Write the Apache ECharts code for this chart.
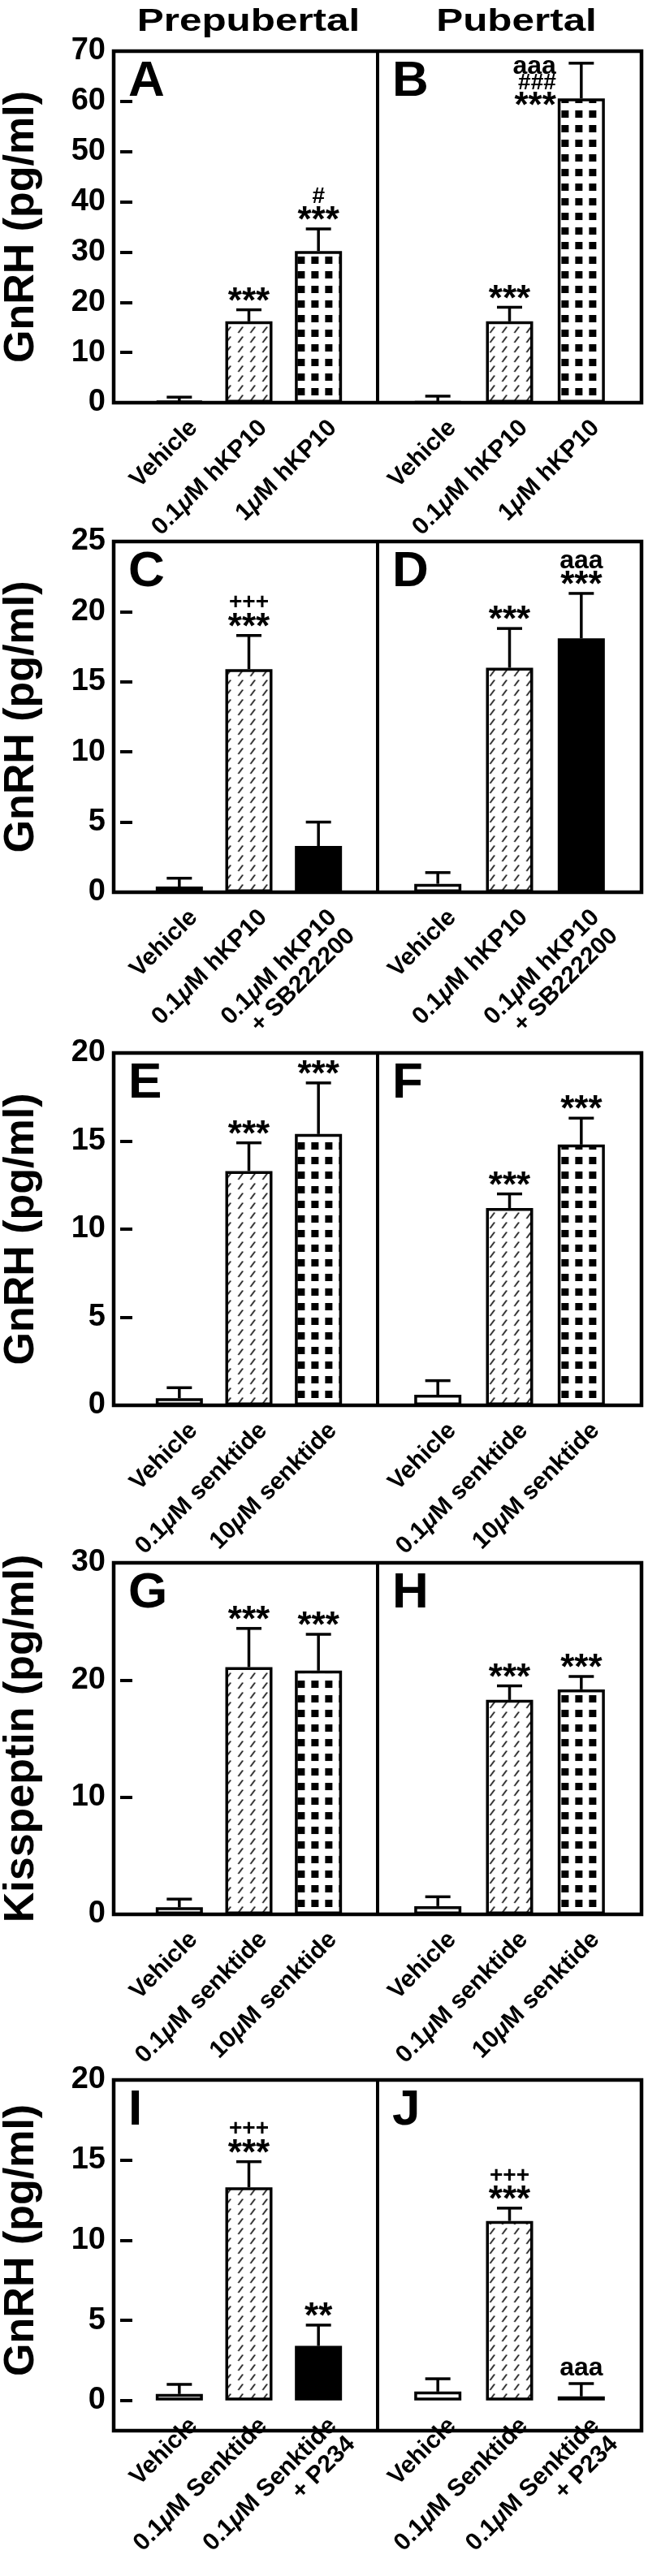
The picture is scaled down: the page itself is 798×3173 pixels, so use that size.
<!DOCTYPE html>
<html>
<head>
<meta charset="utf-8">
<script src="https://cdn.jsdelivr.net/npm/echarts@6/dist/echarts.min.js"></script>
<style>
  html, body { margin: 0; padding: 0; background: #fff; }
  #chart { width: 798px; height: 3173px; }
</style>
</head>
<body>
<div id="chart"></div>
<script>
// ---- categories ----
var catsKP = ['Vehicle', '0.1μM hKP10', '1μM hKP10'];
var catsSB = ['Vehicle', '0.1μM hKP10', '0.1μM hKP10\n+ SB222200'];
var catsSk = ['Vehicle', '0.1μM senktide', '10μM senktide'];
var catsP234 = ['Vehicle', '0.1μM Senktide', '0.1μM Senktide\n+ P234'];

var groupTitles = ['Prepubertal', 'Pubertal'];
var yTitles = ['GnRH (pg/ml)', 'GnRH (pg/ml)', 'GnRH (pg/ml)', 'Kisspeptin (pg/ml)', 'GnRH (pg/ml)'];
var yMax = [70, 25, 20, 30, 20];
var yStep = [10, 5, 5, 10, 5];
var letters = ['A', 'B', 'C', 'D', 'E', 'F', 'G', 'H', 'I', 'J'];

// ---- means and SEM (upper error only) ----
var valA = [0.3, 16.2, 30.2];  var errA = [0.8, 2.3, 4.4];
var valB = [0.2, 16.2, 60.6];  var errB = [1.1, 2.8, 7.0];
var valC = [0.4, 15.9, 3.3];   var errC = [0.6, 2.4, 1.7];
var valD = [0.6, 16.0, 18.1];  var errD = [0.8, 2.8, 3.2];
var valE = [0.4, 13.3, 15.4];  var errE = [0.6, 1.6, 2.9];
var valF = [0.6, 11.2, 14.8];  var errF = [0.8, 0.8, 1.5];
var valG = [0.6, 21.1, 20.8];  var errG = [0.7, 3.3, 3.1];
var valH = [0.7, 18.3, 19.2];  var errH = [0.8, 1.2, 1.1];
var valI = [0.4, 13.3, 3.4];   var errI = [0.6, 1.6, 1.3];
var valJ = [0.55, 11.2, 0.25]; var errJ = [0.8, 0.8, 0.8];

// ---- significance marks, listed bottom to top ----
var annA = [[], ['***'], ['***', '#']];
var annB = [[], ['***'], ['***', '###', 'aaa']];
var annC = [[], ['***', '+++'], []];
var annD = [[], ['***'], ['***', 'aaa']];
var annE = [[], ['***'], ['***']];
var annF = [[], ['***'], ['***']];
var annG = [[], ['***'], ['***']];
var annH = [[], ['***'], ['***']];
var annI = [[], ['***', '+++'], ['**']];
var annJ = [[], ['***', '+++'], ['aaa']];

var rows = [
  { cats: catsKP, panels: [[valA, errA, annA], [valB, errB, annB]] },
  { cats: catsSB, panels: [[valC, errC, annC], [valD, errD, annD]] },
  { cats: catsSk, panels: [[valE, errE, annE], [valF, errF, annF]] },
  { cats: catsSk, panels: [[valG, errG, annG], [valH, errH, annH]] },
  { cats: catsP234, panels: [[valI, errI, annI], [valJ, errJ, annJ]] }
];

// layout
var rowTop = [63, 667, 1297, 1925, 2562];
var rowBottom = [496, 1099, 1731, 2358, 2994];
var gridLeft = [170, 495], gridWidth = 265, barW = 58;
var frameLeft = 140, frameMid = 465, frameRight = 790;
var FONT = '"Liberation Sans", Arial, Helvetica, sans-serif';

function makeTile(kind) {
  var c = document.createElement('canvas');
  var ctx;
  if (kind === 'hatch') {
    c.width = 15; c.height = 12;
    ctx = c.getContext('2d');
    ctx.fillStyle = '#fff'; ctx.fillRect(0, 0, 15, 12);
    ctx.strokeStyle = '#000'; ctx.lineWidth = 1.5;
    ctx.beginPath(); ctx.moveTo(5, 10); ctx.lineTo(10.5, 2.5); ctx.stroke();
  } else {
    c.width = 17; c.height = 18;
    ctx = c.getContext('2d');
    ctx.fillStyle = '#fff'; ctx.fillRect(0, 0, 17, 18);
    ctx.fillStyle = '#000'; ctx.fillRect(4, 4, 9, 9);
  }
  return c;
}
var hatchTile = makeTile('hatch');
var dotsTile = makeTile('dots');

// fill chosen from the treatment name; patterns are anchored on the bar's left edge
function fillFor(name, barLeft, baseY) {
  if (name.indexOf('+') >= 0) return '#000';
  if (name === 'Vehicle') return '#fff';
  if (name.indexOf('0.1') === 0) return { image: hatchTile, repeat: 'repeat', x: barLeft, y: baseY };
  return { image: dotsTile, repeat: 'repeat', x: barLeft + 0.5, y: baseY - 4 };
}

function richLabel(v) {
  return v.split('\n').map(function (line) {
    return line.split('μ').map(function (p) { return p ? '{b|' + p + '}' : ''; }).join('{m|μ}');
  }).join('\n');
}

function annText(s, x, y, align) {
  var star = s.charAt(0) === '*';
  var size = star ? 44 : (s.charAt(0) === 'a' ? 32 : 28);
  return {
    type: 'text', x: x, y: y + (star ? 10 : 0),
    style: {
      text: s, fontSize: size, fontWeight: 'bold', fontFamily: FONT, fill: '#000',
      align: align, verticalAlign: 'middle', textAlign: align, textVerticalAlign: 'middle'
    }
  };
}

function errRender(ann) {
  return function (params, api) {
    var i = api.value(0), v = api.value(1), e = api.value(2);
    var base = api.coord([i, v]);
    var top = api.coord([i, v + e]);
    var children = [
      { type: 'line', shape: { x1: base[0], y1: base[1], x2: top[0], y2: top[1] },
        style: { stroke: '#000', lineWidth: 3.5 } },
      { type: 'line', shape: { x1: top[0] - 15.5, y1: top[1], x2: top[0] + 15.5, y2: top[1] },
        style: { stroke: '#000', lineWidth: 3.5 } }
    ];
    var lines = ann[params.dataIndex] || [];
    if (lines.length) {
      var step = 21, first = top[1] - 19, x = top[0], align = 'center';
      if (first - step * (lines.length - 1) - 10 < params.coordSys.y) {
        first = base[1] + 1; x = base[0] - 31; align = 'right'; step = 20;
      }
      lines.forEach(function (s, j) { children.push(annText(s, x, first - j * step, align)); });
    }
    return { type: 'group', children: children };
  };
}

var grids = [], xAxes = [], yAxes = [], series = [], graphics = [];

rows.forEach(function (row, r) {
  var top = rowTop[r], h = rowBottom[r] - rowTop[r];
  row.panels.forEach(function (p, side) {
    var k = r * 2 + side;
    var band = gridWidth / row.cats.length;
    grids.push({ left: gridLeft[side], top: top, width: gridWidth, height: h });
    xAxes.push({
      type: 'category', gridIndex: k, data: row.cats,
      axisLine: { show: false }, axisTick: { show: false }, splitLine: { show: false },
      axisLabel: {
        interval: 0, rotate: 45, margin: 9, verticalAlign: 'top', padding: [9, 0, 0, 0],
        formatter: richLabel,
        rich: {
          b: { fontFamily: FONT, fontSize: 30, fontWeight: 'bold', color: '#000', lineHeight: 32 },
          m: { fontFamily: FONT, fontSize: 30, fontWeight: 'bold', fontStyle: 'italic', color: '#000', lineHeight: 32 }
        }
      }
    });
    if (side === 0) {
      yAxes.push({
        type: 'value', gridIndex: k, min: 0, max: yMax[r], interval: yStep[r], offset: 30,
        axisLine: { show: false },
        axisTick: { show: true, inside: true, length: 15, lineStyle: { color: '#000', width: 4 } },
        axisLabel: { margin: 18, fontSize: 38, fontWeight: 'bold', fontFamily: FONT, color: '#000' },
        splitLine: { show: false },
        name: yTitles[r], nameLocation: 'middle', nameRotate: 90, nameGap: 95,
        nameTextStyle: { fontSize: 52, fontWeight: 'bold', fontFamily: FONT, color: '#000' }
      });
    } else {
      yAxes.push({ type: 'value', gridIndex: k, min: 0, max: yMax[r], interval: yStep[r], show: false });
    }
    series.push({
      type: 'bar', xAxisIndex: k, yAxisIndex: k, barWidth: barW, z: 2,
      data: p[0].map(function (v, i) {
        var barLeft = gridLeft[side] + band * (i + 0.5) - barW / 2;
        return { value: v, itemStyle: { color: fillFor(row.cats[i], barLeft, rowBottom[r]), borderColor: '#000', borderWidth: 3.5 } };
      })
    });
    series.push({
      type: 'custom', xAxisIndex: k, yAxisIndex: k, z: 3,
      renderItem: errRender(p[2]),
      encode: { x: 0, y: 1 },
      data: p[0].map(function (v, i) { return [i, v, p[1][i]]; })
    });
    graphics.push({
      type: 'text', x: (side === 0 ? frameLeft : frameMid) + 18, y: top + 38, z: 100,
      style: { text: letters[k], fontSize: 62, fontWeight: 'bold', fontFamily: FONT, fill: '#000',
        align: 'left', verticalAlign: 'middle', textAlign: 'left', textVerticalAlign: 'middle' }
    });
  });
  // panel frame and divider
  graphics.push({
    type: 'rect', z: 100,
    shape: { x: frameLeft, y: top, width: frameRight - frameLeft, height: h },
    style: { fill: 'none', stroke: '#000', lineWidth: 4.5 }
  });
  graphics.push({
    type: 'line', z: 100,
    shape: { x1: frameMid, y1: top, x2: frameMid, y2: top + h },
    style: { stroke: '#000', lineWidth: 4 }
  });
});

// column titles
[306, 636].forEach(function (cx, i) {
  graphics.push({
    type: 'text', x: cx, y: 27.5, scaleX: 1.3, z: 100,
    style: { text: groupTitles[i], fontSize: 38, fontWeight: 'bold', fontFamily: FONT, fill: '#000',
      align: 'center', verticalAlign: 'middle', textAlign: 'center', textVerticalAlign: 'middle' }
  });
});

var chart = echarts.init(document.getElementById('chart'), null, { renderer: 'canvas' });
chart.setOption({
  animation: false,
  backgroundColor: '#fff',
  grid: grids,
  xAxis: xAxes,
  yAxis: yAxes,
  series: series,
  graphic: { elements: graphics }
});
</script>
</body>
</html>
